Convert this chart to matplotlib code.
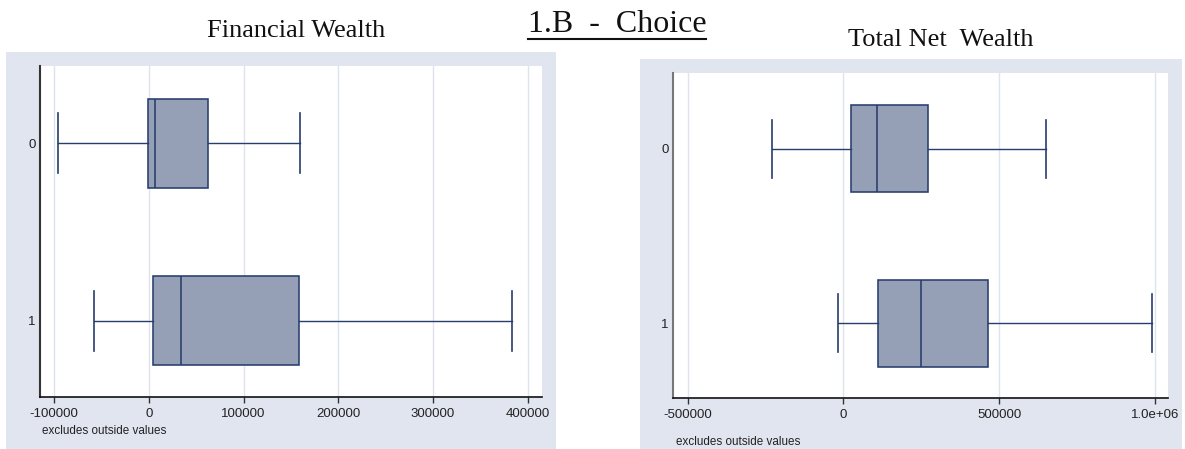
import matplotlib
matplotlib.use("Agg")
import matplotlib.pyplot as plt
from matplotlib.lines import Line2D

# ---------------- data ----------------
groups = ["0", "1"]
# Financial Wealth
fw_whislo = [-96000, -57700]
fw_q1 = [-500, 4400]
fw_med = [6800, 34300]
fw_q3 = [62500, 158600]
fw_whishi = [160000, 383000]
fw_ticks = [-100000, 0, 100000, 200000, 300000, 400000]
fw_ticklabels = ["-100000", "0", "100000", "200000", "300000", "400000"]
# Total Net Wealth
tw_whislo = [-230000, -17000]
tw_q1 = [26000, 111000]
tw_med = [107500, 250000]
tw_q3 = [273000, 464500]
tw_whishi = [650000, 990000]
tw_ticks = [-500000, 0, 500000, 1000000]
tw_ticklabels = ["-500000", "0", "500000", "1.0e+06"]

main_title = "1.B  -  Choice"
titles = ["Financial Wealth", "Total Net  Wealth"]
note = "excludes outside values"

W, H = 1185, 449
fig = plt.figure(figsize=(W / 100, H / 100), dpi=100)
fig.patch.set_facecolor("white")

GRAY = "#e1e5ef"
FILL = "#95a0b7"
EDGE = "#273d6c"
GRID = "#dfe3ee"


def px_axes(x0, y0, x1, y1, **kw):
    return fig.add_axes([x0 / W, 1 - y1 / H, (x1 - x0) / W, (y1 - y0) / H], **kw)


def gray_box(x0, y0, x1, y1):
    bg = px_axes(x0, y0, x1, y1)
    bg.set_facecolor(GRAY)
    bg.set_xticks([])
    bg.set_yticks([])
    for s in bg.spines.values():
        s.set_visible(False)
    bg.set_zorder(-5)


def panel(rect, whislo, q1, med, q3, whishi, ticks, ticklabels, xlim, spine_col):
    ax = px_axes(*rect)
    ax.set_facecolor("white")
    stats = []
    for i, g in enumerate(groups):
        stats.append(dict(label=g, whislo=whislo[i], q1=q1[i], med=med[i],
                          q3=q3[i], whishi=whishi[i], fliers=[]))
    ax.bxp(stats, positions=[0, 1], widths=0.5, capwidths=0.336,
           orientation="horizontal", patch_artist=True, showfliers=False,
           boxprops=dict(facecolor=FILL, edgecolor=EDGE, linewidth=1.15),
           medianprops=dict(color=EDGE, linewidth=1.15),
           whiskerprops=dict(color=EDGE, linewidth=1.0),
           capprops=dict(color=EDGE, linewidth=1.2))
    ax.set_ylim(1.43, -0.435)
    ax.set_xlim(*xlim)
    ax.set_xticks(ticks)
    ax.set_xticklabels(ticklabels, fontfamily="Liberation Sans", fontsize=9.5,
                       color="#222222")
    ax.set_yticks([0, 1])
    ax.set_yticklabels(groups, fontfamily="Liberation Sans", fontsize=9.5,
                       color="#222222")
    ax.tick_params(axis="y", length=0, pad=3)
    ax.tick_params(axis="x", length=4, width=1, color="#333333", pad=4)
    for t in ticks:
        ax.axvline(t, color=GRID, linewidth=1.0, zorder=0)
    for s in ["top", "right"]:
        ax.spines[s].set_visible(False)
    ax.spines["left"].set_color(spine_col)
    ax.spines["left"].set_linewidth(1.5)
    ax.spines["bottom"].set_color("#111111")
    ax.spines["bottom"].set_linewidth(1.2)
    return ax


gray_box(6, 52, 556, 449)
gray_box(640, 59, 1182, 449)

panel((40, 66, 542, 397), fw_whislo, fw_q1, fw_med, fw_q3, fw_whishi,
      fw_ticks, fw_ticklabels, (-114800, 415000), "#333333")
panel((673, 73, 1168, 398), tw_whislo, tw_q1, tw_med, tw_q3, tw_whishi,
      tw_ticks, tw_ticklabels, (-547000, 1042000), "#777777")

fig.text(42 / W, 1 - 431 / H, note, fontfamily="Liberation Sans", fontsize=8.4,
         color="#222222", ha="left", va="center")
fig.text(676 / W, 1 - 442 / H, note, fontfamily="Liberation Sans", fontsize=8.4,
         color="#222222", ha="left", va="center")

fig.text(296 / W, 1 - 31 / H, titles[0], fontfamily="Liberation Serif",
         fontsize=19, color="#111111", ha="center", va="center")
fig.text(941 / W, 1 - 40 / H, titles[1], fontfamily="Liberation Serif",
         fontsize=19, color="#111111", ha="center", va="center")

mt = fig.text(617 / W, 1 - 24 / H, main_title, fontfamily="Liberation Serif",
              fontsize=23, color="#111111", ha="center", va="center")
fig.canvas.draw()
bb = mt.get_window_extent()
uy = 1 - 38.5 / H
fig.lines.append(Line2D([bb.x0 / W, bb.x1 / W], [uy, uy], transform=fig.transFigure,
                        color="#111111", linewidth=1.5))

fig.savefig("out.png", dpi=100)
